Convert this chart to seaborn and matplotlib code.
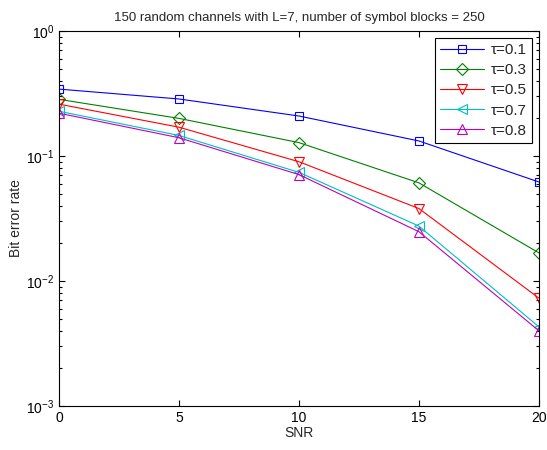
import matplotlib
matplotlib.use("Agg")
import matplotlib.pyplot as plt
from matplotlib.ticker import LogLocator, NullFormatter
import pandas as pd
import seaborn as sns

snr = [0, 5, 10, 15, 20]
tau_labels = ["τ=0.1", "τ=0.3", "τ=0.5", "τ=0.7", "τ=0.8"]
ber_01 = [0.343, 0.286, 0.209, 0.132, 0.062]
ber_03 = [0.284, 0.200, 0.128, 0.061, 0.0168]
ber_05 = [0.260, 0.170, 0.090, 0.038, 0.0073]
ber_07 = [0.228, 0.146, 0.074, 0.0275, 0.0043]
ber_08 = [0.220, 0.140, 0.071, 0.0248, 0.0040]

colors = ["#0000ff", "#008000", "#ff0000", "#00bfbf", "#bf00bf"]
markers = ["s", "D", "v", "<", "^"]
sizes = [6, 6, 7, 7, 7]

sns.set_style("ticks")
plt.rcParams["font.family"] = ["Liberation Sans", "DejaVu Sans"]
plt.rcParams["mathtext.fontset"] = "custom"
plt.rcParams["mathtext.rm"] = "Liberation Sans"

fig = plt.figure(figsize=(5.47, 4.5), dpi=100)
ax = fig.add_axes([0.108, 0.098, 0.877, 0.833])

series = [ber_01, ber_03, ber_05, ber_07, ber_08]
for vals, lab, c, m, ms in zip(series, tau_labels, colors, markers, sizes):
    df = pd.DataFrame({"SNR": snr, "BER": vals})
    sns.lineplot(data=df, x="SNR", y="BER", ax=ax, color=c, marker=m,
                 markersize=ms, markerfacecolor="none", markeredgecolor=c,
                 markeredgewidth=0.8, linewidth=0.8, label=lab)

ax.set_yscale("log")
ax.set_xlim(0, 20)
ax.set_ylim(1e-3, 1)
ax.set_xticks([0, 5, 10, 15, 20])
ax.yaxis.set_minor_locator(LogLocator(base=10, subs=range(2, 10)))
ax.yaxis.set_minor_formatter(NullFormatter())
ax.tick_params(which="both", direction="in", top=True, right=True,
               labelsize=10, width=0.8, colors="black")
ax.tick_params(which="major", length=4)
ax.tick_params(which="minor", length=2.5)
for sp in ax.spines.values():
    sp.set_visible(True)
    sp.set_linewidth(0.8)
    sp.set_color("black")

ax.set_xlabel("SNR", fontsize=10, labelpad=1)
ax.set_ylabel("Bit error rate", fontsize=10, labelpad=2)
ax.set_title("150 random channels with L=7, number of symbol blocks = 250",
             fontsize=9.5, pad=7)

leg = ax.legend(loc="upper right", fontsize=11, frameon=True, fancybox=False,
                edgecolor="black", framealpha=1, handlelength=2.9,
                borderpad=0.35, labelspacing=0.4, handletextpad=0.4,
                borderaxespad=0.45)
leg.get_frame().set_linewidth(0.8)

fig.savefig("out.png", dpi=100)
